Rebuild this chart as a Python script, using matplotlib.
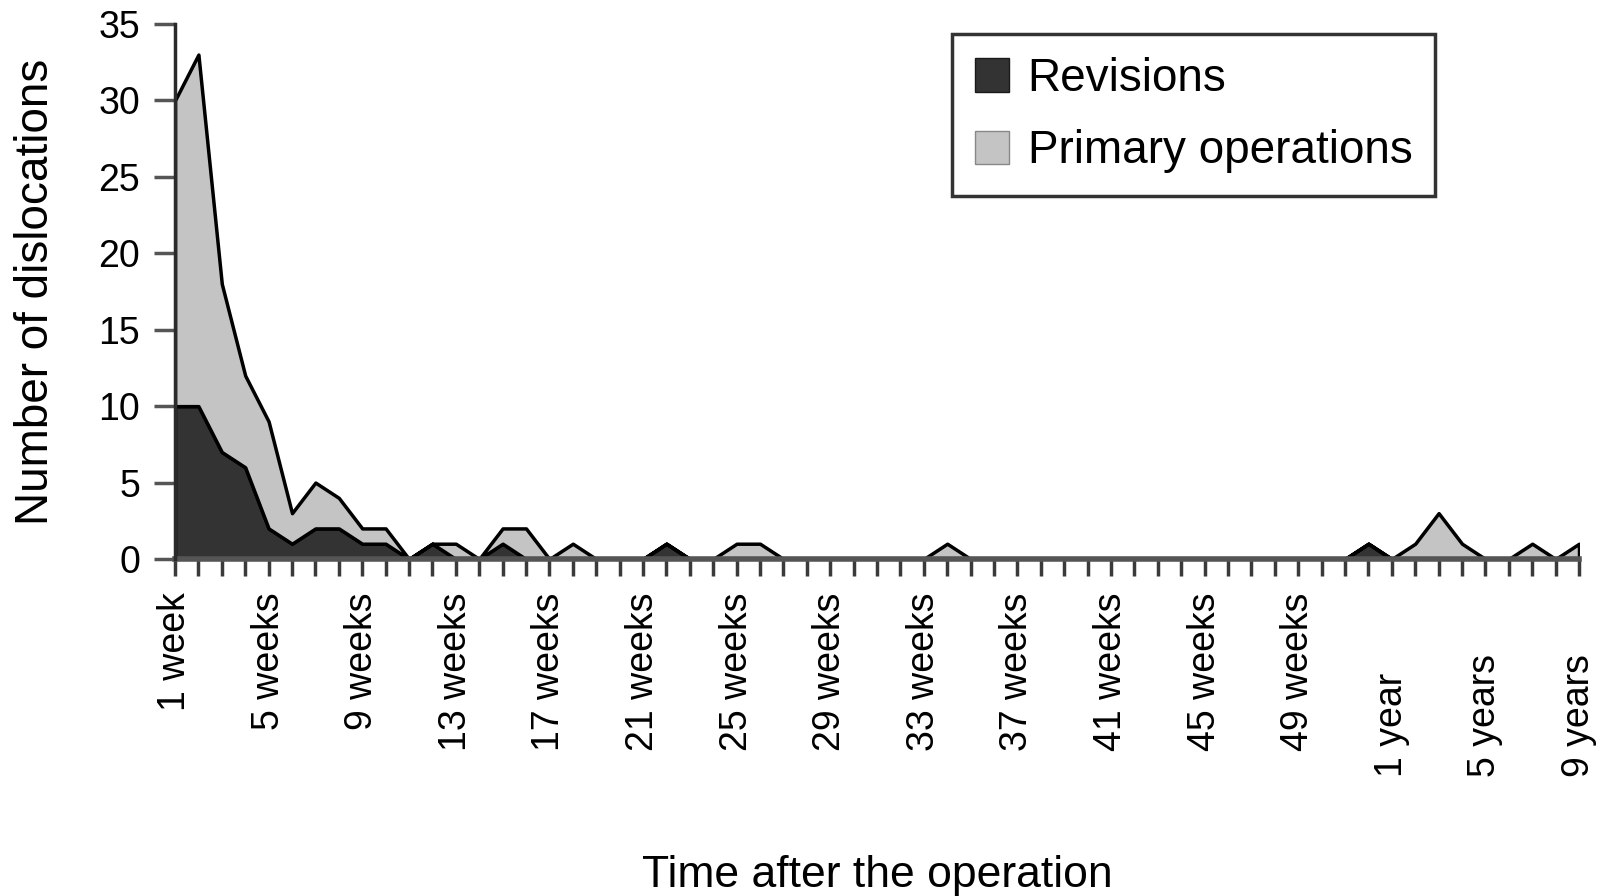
import matplotlib.pyplot as plt
from matplotlib.patches import Patch
import numpy as np

plt.rcParams['font.family'] = ['Liberation Sans', 'DejaVu Sans']

# categories: weeks 1-52, then years 1-9
weeks = ['1 week'] + ['%d weeks' % w for w in range(2, 53)]
years = ['1 year'] + ['%d years' % y for y in range(2, 10)]
categories = weeks + years

revisions = [10, 10, 7, 6, 2, 1, 2, 2, 1, 1,
             0, 1, 0, 0, 1, 0, 0, 0, 0, 0,
             0, 1, 0, 0, 0, 0, 0, 0, 0, 0,
             0, 0, 0, 0, 0, 0, 0, 0, 0, 0,
             0, 0, 0, 0, 0, 0, 0, 0, 0, 0,
             0, 1, 0, 0, 0, 0, 0, 0, 0, 0,
             0]
primary = [20, 23, 11, 6, 7, 2, 3, 2, 1, 1,
           0, 0, 1, 0, 1, 2, 0, 1, 0, 0,
           0, 0, 0, 0, 1, 1, 0, 0, 0, 0,
           0, 0, 0, 1, 0, 0, 0, 0, 0, 0,
           0, 0, 0, 0, 0, 0, 0, 0, 0, 0,
           0, 0, 0, 1, 3, 1, 0, 0, 1, 0,
           1]
series_names = ['Revisions', 'Primary operations']
series_colors = ['#333333', '#c4c4c4']

x = np.arange(len(categories))

fig = plt.figure(figsize=(16.08, 8.96), dpi=100)
W, H = 1608, 896
ax_left, ax_right, ax_top, ax_bottom = 175, 1579, 24, 559
ax = fig.add_axes([ax_left / W, 1 - ax_bottom / H,
                   (ax_right - ax_left) / W, (ax_bottom - ax_top) / H])

ax.stackplot(x, revisions, primary, colors=series_colors,
             edgecolor='black', linewidth=2.5)

ax.set_xlim(0, len(categories) - 1)
ax.set_ylim(0, 35)
ax.set_yticks(range(0, 36, 5))

ax.spines['top'].set_visible(False)
ax.spines['right'].set_visible(False)
ax.spines['left'].set_color('#2a2a2a')
ax.spines['left'].set_linewidth(2.5)
ax.spines['bottom'].set_color('#555555')
ax.spines['bottom'].set_linewidth(4)
ax.spines['left'].set_zorder(5)

tick_labels = [c if i % 4 == 0 else '' for i, c in enumerate(categories)]
ax.set_xticks(x)
ax.set_xticklabels(tick_labels, rotation=90, fontsize=27)
ax.tick_params(axis='x', length=12, width=2.5, color='#3a3a3a', pad=12)
ax.tick_params(axis='y', length=15, width=2.5, color='#555555', labelsize=27, pad=10)

# year labels sit lower, bottom-aligned
ax_h = ax_bottom - ax_top
for lbl in ax.get_xticklabels():
    if 'year' in lbl.get_text():
        lbl.set_va('bottom')
        lbl.set_y(-185 / ax_h)

ax.set_xlabel('Time after the operation', fontsize=32)
ax.xaxis.set_label_coords(0.5, -(855 - ax_bottom) / ax_h)
ax.set_ylabel('Number of dislocations', fontsize=33)
ax.yaxis.set_label_coords(-0.083, 0.5)

handles = [Patch(facecolor=series_colors[0], edgecolor='#1a1a1a'),
           Patch(facecolor=series_colors[1], edgecolor='#888888')]
leg = ax.legend(handles, series_names, loc='upper left',
                bbox_to_anchor=(952 / W, 1 - 34 / H), bbox_transform=fig.transFigure,
                fontsize=33, frameon=True, fancybox=False, borderaxespad=0,
                handlelength=0.75, handleheight=0.75, handletextpad=0.4,
                labelspacing=0.62, borderpad=0.5)
leg.get_frame().set_edgecolor('black')
leg.get_frame().set_linewidth(2.5)

fig.savefig('out.png', dpi=100)
